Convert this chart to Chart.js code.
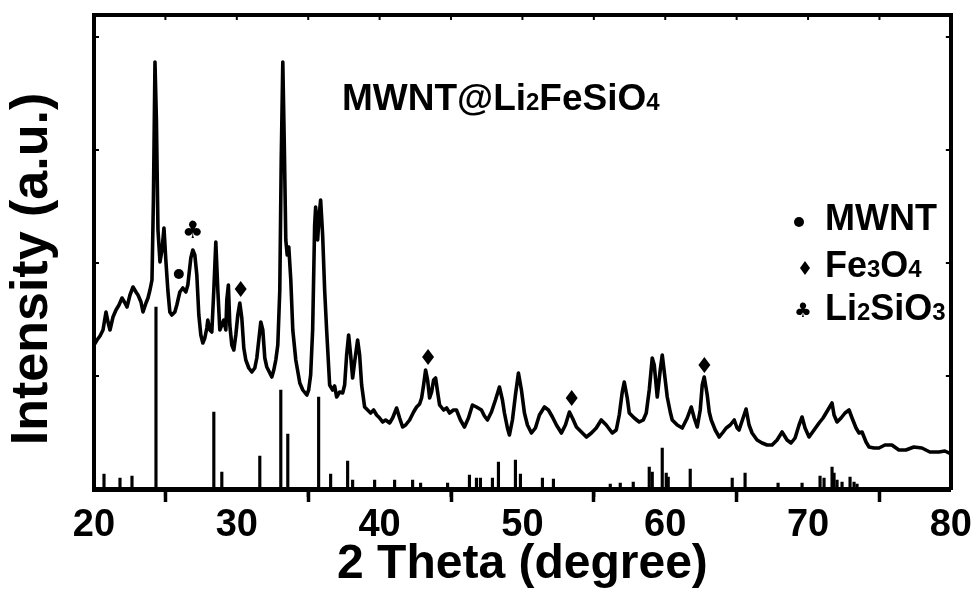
<!DOCTYPE html>
<html>
<head>
<meta charset="utf-8">
<script src="https://cdn.jsdelivr.net/npm/chart.js@4"></script>
<style>
  html, body { margin: 0; padding: 0; background: #fff; }
  canvas { display: block; }
</style>
</head>
<body>
<canvas id="c" width="977" height="596"></canvas>
<script>
const twoTheta = [
  20.00, 20.21, 20.42, 20.63, 20.84, 20.98, 21.12, 21.33, 21.54, 21.75,
  21.96, 22.17, 22.31, 22.52, 22.73, 22.94, 23.08, 23.29, 23.43, 23.64,
  23.78, 23.92, 24.06, 24.16, 24.27, 24.37, 24.48, 24.62, 24.76, 24.90,
  25.03, 25.17, 25.31, 25.45, 25.66, 25.80, 26.01, 26.22, 26.43, 26.57,
  26.78, 26.92, 27.06, 27.20, 27.34, 27.48, 27.62, 27.76, 27.90, 27.97,
  28.11, 28.25, 28.39, 28.53, 28.67, 28.81, 28.95, 29.09, 29.23, 29.30,
  29.41, 29.51, 29.65, 29.79, 29.93, 30.07, 30.21, 30.35, 30.49, 30.63,
  30.84, 31.05, 31.26, 31.40, 31.54, 31.68, 31.82, 31.96, 32.10, 32.31,
  32.45, 32.59, 32.73, 32.87, 33.01, 33.11, 33.22, 33.32, 33.43, 33.53,
  33.64, 33.78, 33.92, 34.13, 34.41, 34.62, 34.90, 35.03, 35.17, 35.31,
  35.45, 35.52, 35.66, 35.77, 35.87, 36.01, 36.15, 36.29, 36.50, 36.71,
  36.85, 36.99, 37.20, 37.41, 37.55, 37.69, 37.83, 37.97, 38.11, 38.25,
  38.46, 38.60, 38.74, 38.95, 39.16, 39.37, 39.58, 39.79, 40.00, 40.21,
  40.42, 40.70, 40.91, 41.19, 41.40, 41.61, 41.82, 42.10, 42.38, 42.59,
  42.80, 42.94, 43.08, 43.22, 43.36, 43.50, 43.64, 43.78, 43.92, 44.06,
  44.20, 44.48, 44.69, 44.90, 45.17, 45.38, 45.66, 45.94, 46.22, 46.50,
  46.78, 47.13, 47.34, 47.55, 47.83, 48.11, 48.39, 48.60, 48.74, 48.95,
  49.09, 49.30, 49.51, 49.72, 49.93, 50.14, 50.35, 50.63, 50.91, 51.19,
  51.54, 51.82, 52.10, 52.38, 52.73, 53.01, 53.29, 53.50, 53.78, 54.13,
  54.48, 54.83, 55.17, 55.52, 55.87, 56.29, 56.57, 56.78, 56.99, 57.13,
  57.34, 57.48, 57.83, 58.18, 58.46, 58.67, 58.88, 59.09, 59.23, 59.44,
  59.65, 59.79, 60.00, 60.14, 60.35, 60.49, 60.84, 61.19, 61.54, 61.82,
  62.03, 62.24, 62.45, 62.59, 62.73, 62.94, 63.08, 63.22, 63.50, 63.78,
  64.06, 64.27, 64.55, 64.83, 65.03, 65.17, 65.45, 65.66, 65.87, 66.08,
  66.43, 66.78, 67.13, 67.48, 67.83, 68.18, 68.53, 68.81, 69.09, 69.37,
  69.58, 69.79, 70.07, 70.42, 70.77, 71.05, 71.26, 71.47, 71.68, 71.82,
  72.03, 72.31, 72.59, 72.87, 73.08, 73.36, 73.57, 73.78, 74.06, 74.27,
  74.62, 74.97, 75.38, 75.87, 76.36, 76.85, 77.41, 77.97, 78.53, 79.16,
  79.58, 80.00
];
const intensity = [
  144, 149, 153, 159, 177, 167, 159, 172, 179, 184,
  191, 186, 182, 194, 202, 197, 194, 187, 177, 186,
  191, 199, 209, 289, 427, 369, 259, 227, 239, 261,
  229, 199, 177, 174, 177, 184, 197, 201, 197, 204,
  231, 239, 234, 214, 174, 154, 146, 151, 161, 169,
  159, 157, 199, 247, 199, 159, 164, 169, 159, 189,
  204, 164, 144, 139, 154, 174, 186, 171, 141, 129,
  121, 117, 121, 131, 149, 167, 159, 131, 122, 116,
  112, 119, 129, 144, 199, 329, 427, 349, 249, 234,
  242, 209, 159, 129, 106, 99, 94, 99, 114, 159,
  264, 282, 249, 274, 289, 254, 199, 159, 104, 99,
  103, 92, 97, 96, 104, 134, 154, 134, 111, 127,
  149, 134, 104, 82, 79, 76, 79, 74, 71, 67,
  69, 66, 71, 81, 71, 62, 64, 69, 77, 82,
  85, 91, 104, 119, 109, 91, 97, 109, 111, 97,
  84, 79, 81, 76, 79, 79, 69, 62, 71, 84,
  82, 79, 73, 69, 77, 89, 102, 89, 76, 61,
  54, 69, 94, 116, 99, 76, 64, 56, 61, 74,
  82, 79, 72, 64, 56, 64, 77, 71, 62, 57,
  52, 56, 61, 69, 64, 56, 59, 74, 97, 107,
  91, 76, 71, 67, 69, 76, 99, 131, 124, 92,
  119, 134, 109, 92, 77, 69, 64, 61, 71, 82,
  71, 62, 79, 104, 112, 94, 77, 69, 59, 52,
  57, 61, 64, 69, 61, 59, 71, 80, 64, 56,
  49, 46, 44, 44, 49, 57, 49, 46, 51, 64,
  72, 61, 52, 59, 66, 71, 76, 81, 86, 74,
  67, 71, 76, 79, 71, 61, 56, 57, 47, 42,
  41, 41, 44, 44, 39, 39, 42, 41, 37, 37,
  38, 35
];

// ---- standard reference pattern (stick lines)
const refTheta = [20.70, 21.82, 22.66, 24.34, 28.39, 28.95, 31.61, 33.08, 33.57, 35.73,
  36.57, 37.76, 38.11, 39.65, 41.05, 42.31, 42.87, 44.76, 46.29, 46.78,
  47.06, 47.90, 48.32, 49.51, 49.86, 51.40, 52.17, 56.15, 56.85, 57.76,
  58.88, 59.09, 59.79, 60.07, 60.21, 61.75, 64.69, 65.59, 67.90, 69.58,
  70.84, 71.12, 71.68, 71.82, 72.03, 72.38, 72.94, 73.22, 73.43];
const refIntensity = [15, 11, 13, 182, 77, 17, 33, 99, 55, 92,
  15, 28, 9, 9, 9, 9, 6, 6, 14, 11,
  11, 11, 27, 29, 15, 11, 10, 5, 6, 7,
  22, 17, 41, 16, 12, 20, 11, 16, 6, 6,
  13, 11, 22, 16, 9, 7, 12, 7, 5];

// ---- phase markers placed over the pattern
const mwntMarks = [[25.94, 215]];
const fe3o4Marks = [[30.27, 200], [43.39, 132], [53.45, 91], [62.74, 124]];
const li2sio3Marks = [[26.91, 257]];

const xMinorTicks = [25, 35, 45, 55, 65, 75];

const FONT = '"Liberation Sans", Arial, Helvetica, sans-serif';

function richText(ctx, parts, x, y, size, subSize) {
  parts.forEach(([t, sub]) => {
    ctx.font = `bold ${sub ? subSize : size}px ${FONT}`;
    ctx.fillText(t, x, y);
    x += ctx.measureText(t).width;
  });
}
function dot(ctx, x, y, r) {
  ctx.beginPath(); ctx.arc(x, y, r, 0, Math.PI * 2); ctx.fill();
}
function diamond(ctx, x, y, w, h) {
  ctx.beginPath();
  ctx.moveTo(x, y - h); ctx.lineTo(x + w, y); ctx.lineTo(x, y + h); ctx.lineTo(x - w, y);
  ctx.closePath(); ctx.fill();
}
function club(ctx, x, y, size) {
  ctx.font = `${size}px "DejaVu Sans", sans-serif`;
  ctx.textAlign = "center"; ctx.textBaseline = "middle";
  ctx.fillText("\u2663", x, y);
  ctx.textAlign = "left"; ctx.textBaseline = "alphabetic";
}

const decor = {
  id: "decor",
  afterDraw(chart) {
    const { ctx, chartArea: a, scales: { x, y } } = chart;
    ctx.save();
    ctx.fillStyle = "#000"; ctx.strokeStyle = "#000";

    // minor ticks below x axis, inward ticks on the other three sides
    ctx.lineWidth = 3;
    xMinorTicks.forEach(v => {
      const px = x.getPixelForValue(v);
      ctx.beginPath(); ctx.moveTo(px, a.bottom); ctx.lineTo(px, a.bottom + 8); ctx.stroke();
    });
    ctx.lineWidth = 2;
    for (let v = 25; v < 80; v += 5) {
      const px = x.getPixelForValue(v);
      ctx.beginPath(); ctx.moveTo(px, a.top); ctx.lineTo(px, a.top + 5); ctx.stroke();
    }
    y.ticks.forEach(t => {
      if (t.value <= 0 || t.value >= y.max) return;
      const py = y.getPixelForValue(t.value);
      ctx.beginPath(); ctx.moveTo(a.left, py); ctx.lineTo(a.left + 5, py); ctx.stroke();
      ctx.beginPath(); ctx.moveTo(a.right, py); ctx.lineTo(a.right - 5, py); ctx.stroke();
    });

    // y axis title
    ctx.save();
    ctx.translate(33, 269); ctx.rotate(-Math.PI / 2);
    ctx.font = `bold 52px ${FONT}`;
    ctx.textAlign = "center"; ctx.textBaseline = "middle";
    ctx.fillText("Intensity (a.u.)", 0, 0);
    ctx.restore();

    // sample label
    richText(ctx, [["MWNT@Li", false], ["2", true], ["FeSiO", false], ["4", true]], 342, 110, 37, 24);

    // phase markers on peaks
    mwntMarks.forEach(([t, i]) => dot(ctx, x.getPixelForValue(t), y.getPixelForValue(i), 5));
    fe3o4Marks.forEach(([t, i]) => diamond(ctx, x.getPixelForValue(t), y.getPixelForValue(i), 6, 8));
    li2sio3Marks.forEach(([t, i]) => club(ctx, x.getPixelForValue(t), y.getPixelForValue(i), 24));

    // legend
    dot(ctx, 799, 222, 5);
    richText(ctx, [["MWNT", false]], 825, 230, 36, 24);
    diamond(ctx, 805, 268, 5, 7);
    richText(ctx, [["Fe", false], ["3", true], ["O", false], ["4", true]], 825, 277, 36, 24);
    club(ctx, 803, 312, 20);
    richText(ctx, [["Li", false], ["2", true], ["SiO", false], ["3", true]], 825, 320, 36, 24);

    ctx.restore();
  }
};

const frame = { display: true, color: "#000", width: 4 };

new Chart(document.getElementById("c"), {
  type: "line",
  data: {
    datasets: [
      {
        type: "line", label: "MWNT@Li2FeSiO4",
        data: twoTheta.map((t, i) => ({ x: t, y: intensity[i] })),
        borderColor: "#000", borderWidth: 3.6, pointRadius: 0, tension: 0,
        borderJoinStyle: "round", borderCapStyle: "round",
        xAxisID: "x", yAxisID: "y", order: 1
      },
      {
        type: "bar", label: "Li2FeSiO4 reference",
        data: refTheta.map((t, i) => ({ x: t, y: refIntensity[i] })),
        backgroundColor: "#000", barThickness: 2.5, grouped: false,
        xAxisID: "x", yAxisID: "y", order: 2
      }
    ]
  },
  options: {
    responsive: false, animation: false, devicePixelRatio: 1,
    layout: { padding: { left: 0, right: 24, top: 15, bottom: 0 } },
    plugins: { legend: { display: false }, tooltip: { enabled: false } },
    scales: {
      x: {
        type: "linear", position: "bottom", min: 20, max: 80, offset: false,
        ticks: {
          stepSize: 10, autoSkip: false, maxRotation: 0, padding: 5, color: "#000",
          font: { family: FONT, size: 38, weight: "bold", lineHeight: 1 }
        },
        grid: { drawOnChartArea: false, drawTicks: true, tickLength: 13, tickWidth: 3.5, tickColor: "#000" },
        border: { display: true, color: "#000", width: 5 },
        title: {
          display: true, text: "2 Theta (degree)", color: "#000",
          font: { family: FONT, size: 48, weight: "bold", lineHeight: 1 },
          padding: { top: 0, bottom: 7 }
        },
        afterFit: s => { s.height = 107; }
      },
      x2: {
        type: "linear", position: "top", min: 20, max: 80,
        ticks: { display: false }, grid: { drawOnChartArea: false, drawTicks: false },
        border: frame, afterFit: s => { s.height = 0; }
      },
      y: {
        type: "linear", position: "left", min: 0, max: 474,
        ticks: { display: false, stepSize: 113 },
        grid: { drawOnChartArea: false, drawTicks: false },
        border: frame, afterFit: s => { s.width = 94; }
      },
      y2: {
        type: "linear", position: "right", min: 0, max: 474,
        ticks: { display: false }, grid: { drawOnChartArea: false, drawTicks: false },
        border: frame, afterFit: s => { s.width = 0; }
      }
    }
  },
  plugins: [decor]
});
</script>
</body>
</html>
